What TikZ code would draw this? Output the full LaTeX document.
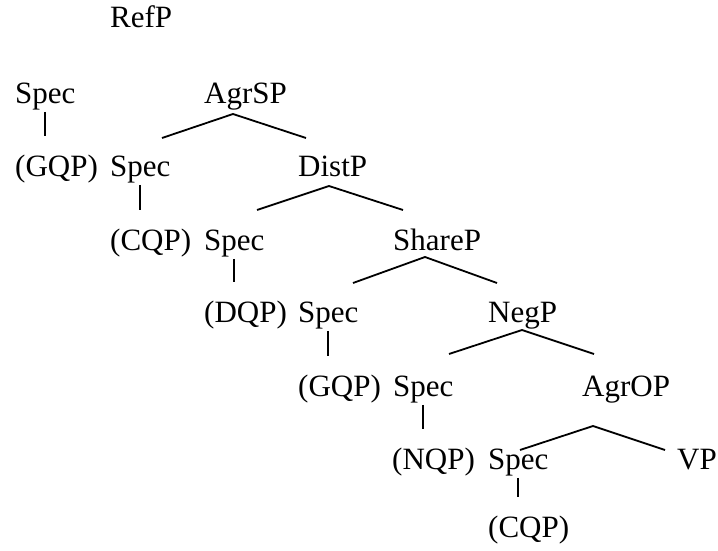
\documentclass[tikz,border=0pt]{standalone}
\usepackage{fontspec}
\setmainfont{Liberation Serif}
\usepackage{tikz}

\begin{document}
\begin{tikzpicture}[
    x=1pt, y=-1pt,
    word/.style={anchor=base west, inner sep=0pt,
                 font=\fontsize{31}{37}\selectfont},
    stem/.style={line width=1.8pt, shorten <=2pt, shorten >=18pt},
    branch/.style={line width=1.8pt}
  ]
    \useasboundingbox (0,0) rectangle (718,551);

    \node[word] (refp) at (110,28) {RefP};

    \node[word] (spec1) at (15,103) {Spec};
    \node[word] (agrsp) at (204,103) {AgrSP};

    \node[word] (gqp1) at (15,176) {(GQP)};
    \node[word] (spec2) at (110,176) {Spec};
    \node[word] (distp) at (298,176) {DistP};

    \node[word] (cqp1) at (110,250) {(CQP)};
    \node[word] (spec3) at (204,250) {Spec};
    \node[word] (sharep) at (393,250) {ShareP};

    \node[word] (dqp) at (204,322) {(DQP)};
    \node[word] (spec4) at (298,322) {Spec};
    \node[word] (negp) at (488,322) {NegP};

    \node[word] (gqp2) at (298,396) {(GQP)};
    \node[word] (spec5) at (393,396) {Spec};
    \node[word] (agrop) at (582,396) {AgrOP};

    \node[word] (nqp) at (392,469) {(NQP)};
    \node[word] (spec6) at (488,469) {Spec};
    \node[word] (vp) at (677,469) {VP};

    \node[word] (cqp2) at (488,537) {(CQP)};

    \coordinate (agrsp-top) at (233,114);
    \coordinate (agrsp-l) at (162,138);
    \coordinate (agrsp-r) at (306,138);
    \coordinate (distp-top) at (329,186);
    \coordinate (distp-l) at (257,210);
    \coordinate (distp-r) at (403,210);
    \coordinate (sharep-top) at (425,257);
    \coordinate (sharep-l) at (353,283);
    \coordinate (sharep-r) at (497,283);
    \coordinate (negp-top) at (522,330);
    \coordinate (negp-l) at (449,354);
    \coordinate (negp-r) at (594,354);
    \coordinate (agrop-top) at (593,426);
    \coordinate (agrop-l) at (520,450);
    \coordinate (agrop-r) at (665,450);

    \draw[branch] (agrsp-l) -- (agrsp-top) -- (agrsp-r);
    \draw[branch] (distp-l) -- (distp-top) -- (distp-r);
    \draw[branch] (sharep-l) -- (sharep-top) -- (sharep-r);
    \draw[branch] (negp-l) -- (negp-top) -- (negp-r);
    \draw[branch] (agrop-l) -- (agrop-top) -- (agrop-r);

    \draw[stem] (spec1.south) -- (spec1.south |- gqp1.north);
    \draw[stem] (spec2.south) -- (spec2.south |- cqp1.north);
    \draw[stem] (spec3.south) -- (spec3.south |- dqp.north);
    \draw[stem] (spec4.south) -- (spec4.south |- gqp2.north);
    \draw[stem] (spec5.south) -- (spec5.south |- nqp.north);
    \draw[stem] (spec6.south) -- (spec6.south |- cqp2.north);
  \end{tikzpicture}
\end{document}
